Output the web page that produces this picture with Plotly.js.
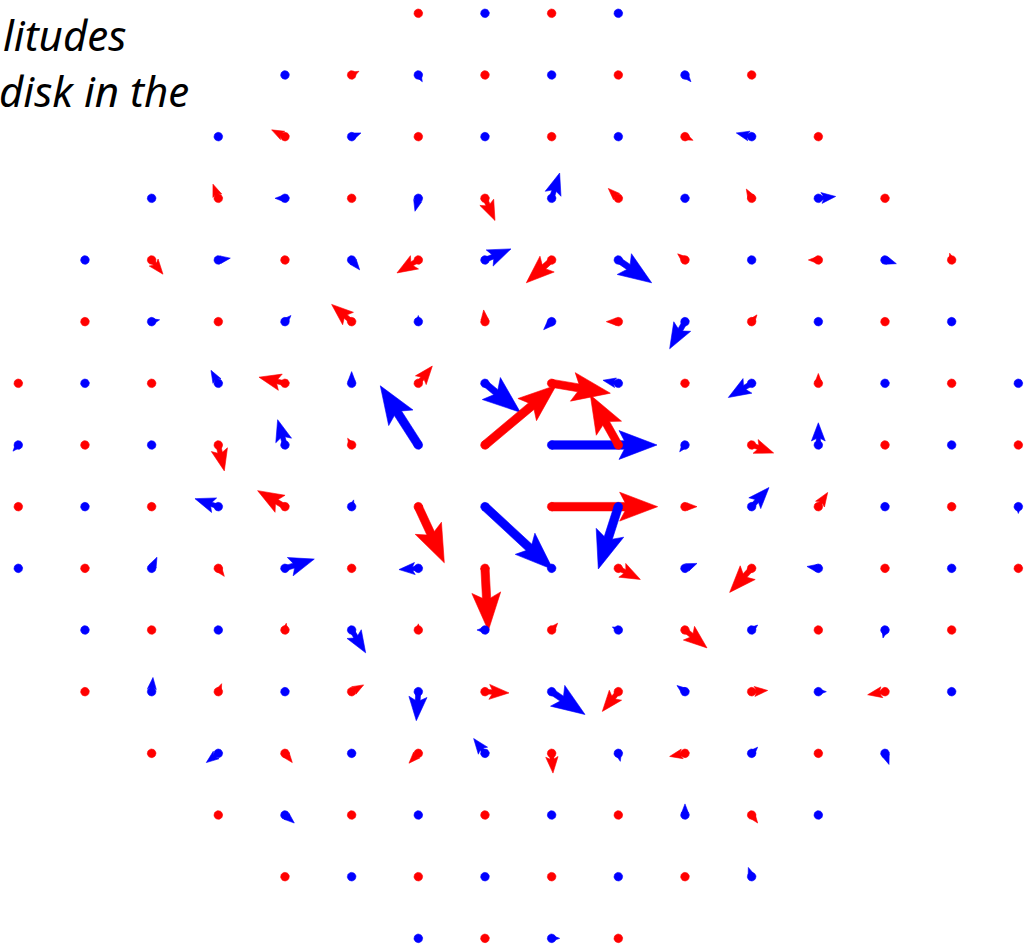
<!DOCTYPE html>
<html>
<head>
<meta charset="utf-8">
<script src="https://cdn.plot.ly/plotly-3.0.1.min.js"></script>
<style>
  html, body { margin: 0; padding: 0; background: #ffffff; }
  #plot { width: 1024px; height: 946px; }
</style>
</head>
<body>
<div id="plot"></div>
<script>
// Occupied sites of the disk: first and last column of every lattice row (row 0 at the top)
const rowFirst = [6, 4, 3, 2, 1, 1, 0, 0, 0, 0, 1, 1, 2, 3, 4, 6];
const rowLast  = [9, 11, 12, 13, 14, 14, 15, 15, 15, 15, 14, 14, 13, 12, 11, 9];

// Amplitude vector on each site, row by row (lattice units, x to the right, y upward)
const ampX = [
  [0, 0, 0, 0],
  [0, 0.11, 0.06, 0, 0, 0, 0.09, 0],
  [0, -0.20, 0.14, 0, 0, 0, 0, 0.12, -0.23, 0],
  [0, -0.08, -0.15, 0, -0.05, 0.15, 0.12, -0.15, 0, -0.08, 0.26, 0],
  [0, 0.17, 0.18, 0, 0.12, -0.32, 0.39, -0.38, 0.50, -0.11, 0, -0.15, 0.17, -0.03],
  [0, 0.12, 0, 0.09, -0.30, 0, -0.02, -0.12, -0.18, -0.23, 0.08, 0, 0, 0],
  [0, 0, 0, -0.11, -0.39, 0, 0.21, 0.53, 0.88, -0.23, 0, -0.35, 0, 0, 0, 0],
  [-0.08, 0, 0, 0.09, -0.11, -0.06, -0.57, 1.07, 1.58, -0.42, -0.08, 0.33, 0, 0, 0, 0],
  [0, 0, 0, -0.35, -0.41, 0.03, 0.39, 1.02, 1.59, -0.30, 0.18, 0.26, 0.14, 0, 0, 0],
  [0, 0, 0.08, 0.09, 0.44, 0, -0.29, 0.05, 0, 0.33, 0.18, -0.33, -0.17, 0, 0, 0],
  [0, 0, 0, 0.02, 0.21, 0, -0.12, 0.09, -0.09, 0.33, 0.09, 0, -0.03, 0],
  [0, 0.02, 0.05, 0, 0.18, -0.03, 0.36, 0.50, -0.24, -0.12, 0.24, 0.12, -0.26, 0],
  [0, -0.18, 0.11, 0, -0.14, -0.17, 0.02, 0.03, -0.23, 0.09, 0, 0.06],
  [0, 0.14, 0, 0, 0, 0, 0, 0, 0.09, 0],
  [0, 0, 0, 0, 0, 0, 0, -0.05],
  [0, 0, 0.12, 0]
];
const ampY = [
  [0, 0, 0, 0],
  [0, 0.06, -0.11, 0, 0, 0, -0.11, 0],
  [0, 0.11, 0.06, 0, 0, 0, 0, -0.06, 0.06, 0],
  [0, 0.23, 0, 0, -0.21, -0.36, 0.41, 0.16, 0, 0.15, 0.03, 0],
  [0, -0.23, 0.03, 0, -0.16, -0.21, 0.18, -0.37, -0.37, 0.10, 0, 0, -0.06, 0.11],
  [0, 0.03, 0, 0.10, 0.28, 0.10, 0.19, -0.13, 0, -0.44, 0.11, 0, 0, 0],
  [0, 0, 0, 0.21, 0.10, 0.19, 0.28, -0.47, -0.16, 0.05, 0, -0.23, 0.16, 0, 0, 0],
  [-0.10, 0, 0, -0.42, 0.41, 0.11, 0.96, 0.97, 0, 0.81, -0.11, -0.13, 0.36, 0, 0, 0],
  [0, 0, 0, 0.13, 0.26, 0.11, -0.91, -1.02, 0, -1.01, 0, 0.31, 0.23, 0, 0, -0.11],
  [0, 0, 0.18, -0.13, 0.15, 0, -0.02, -1.01, 0, -0.18, 0.08, -0.39, 0.03, 0, 0, 0],
  [0, 0, 0, 0.11, -0.37, 0.10, 0, 0.11, 0.05, -0.29, 0.08, 0, -0.13, 0],
  [0, 0.23, 0.13, 0, 0.11, -0.47, -0.02, -0.37, -0.32, 0.10, 0.02, 0, -0.05, 0],
  [0, -0.15, -0.15, 0, -0.16, 0.24, -0.32, -0.13, -0.05, 0.10, 0, -0.18],
  [0, -0.13, 0, 0, 0, 0, 0, 0.18, -0.13, 0],
  [0, 0, 0, 0, 0, 0, 0, 0.15],
  [0, 0, 0, 0]
];

// Sublattice colours
const colorA = '#ff0000';
const colorB = '#0000ff';

// Caption lines
const captionLines = ['litudes', 'disk in the'];

// Figure geometry
const W = 1024, H = 946;
const xRange = [-0.2745, 15.085];
const yRange = [15.124, -0.2157];          // rows run downward
const sx = W / (xRange[1] - xRange[0]);    // pixels per lattice unit, x
const sy = H / (yRange[0] - yRange[1]);    // pixels per lattice unit, y

const DOT_R = 4.3;

// Outline of one arrow (shaft + notched head) in data units, or null for a bare site
function arrowPath(r, c, u, v) {
  const dxp = u * sx, dyp = -v * sy;
  const L = Math.hypot(dxp, dyp);
  if (L <= 2) return null;
  const xs = [], ys = [];
  const push = (px, py) => { xs.push(c + px / sx); ys.push(r + py / sy); };
  const dx = dxp / L, dy = dyp / L;
  const nx = -dy, ny = dx;
  const hl = Math.min(38, 0.82 * L);
  const hw = 0.38 * hl;
  const notch = 0.2 * hl;
  let w = Math.min(8.5, 2 + 0.1 * L);
  w = Math.min(w, 1.6 * hw);
  const aJ = hl - notch * (1 - w / (2 * hw));
  const Tx = L * dx, Ty = L * dy;
  const pts = [
    [ (w / 2) * nx, (w / 2) * ny ],
    [ Tx - aJ * dx + (w / 2) * nx, Ty - aJ * dy + (w / 2) * ny ],
    [ Tx - hl * dx + hw * nx, Ty - hl * dy + hw * ny ],
    [ Tx, Ty ],
    [ Tx - hl * dx - hw * nx, Ty - hl * dy - hw * ny ],
    [ Tx - aJ * dx - (w / 2) * nx, Ty - aJ * dy - (w / 2) * ny ],
    [ -(w / 2) * nx, -(w / 2) * ny ]
  ];
  pts.forEach(p => push(p[0], p[1]));
  push(pts[0][0], pts[0][1]);
  return { xs, ys };
}

// Round dot marking the site itself
function dotPath(r, c) {
  const xs = [], ys = [];
  for (let k = 0; k <= 24; k++) {
    const a = 2 * Math.PI * k / 24;
    xs.push(c + DOT_R * Math.cos(a) / sx);
    ys.push(r + DOT_R * Math.sin(a) / sy);
  }
  return { xs, ys };
}

function shapeTrace(p, col) {
  return {
    type: 'scatter', mode: 'lines',
    x: p.xs, y: p.ys,
    fill: 'toself', fillcolor: col,
    line: { color: col, width: 0.6 },
    hoverinfo: 'skip', showlegend: false
  };
}

const traces = [];
for (let r = 0; r < rowFirst.length; r++) {
  for (let c = rowFirst[r]; c <= rowLast[r]; c++) {
    const i = c - rowFirst[r];
    const col = ((r + c) % 2 === 0) ? colorA : colorB;
    const a = arrowPath(r, c, ampX[r][i], ampY[r][i]);
    if (a) traces.push(shapeTrace(a, col));
    traces.push(shapeTrace(dotPath(r, c), col));
  }
}

const captionFont = { family: 'Noto Sans, Open Sans, sans-serif', size: 42, style: 'italic', color: '#000000' };
const layout = {
  width: W, height: H,
  margin: { l: 0, r: 0, t: 0, b: 0 },
  paper_bgcolor: '#ffffff', plot_bgcolor: '#ffffff',
  showlegend: false,
  xaxis: { range: xRange, visible: false, showgrid: false, zeroline: false, fixedrange: true },
  yaxis: { range: yRange, visible: false, showgrid: false, zeroline: false, fixedrange: true },
  annotations: [
    { xref: 'paper', yref: 'paper', x: 128 / W, y: 1 - 35 / H, xanchor: 'right', yanchor: 'middle',
      text: captionLines[0], showarrow: false, font: captionFont },
    { xref: 'paper', yref: 'paper', x: 191 / W, y: 1 - 91 / H, xanchor: 'right', yanchor: 'middle',
      text: captionLines[1], showarrow: false, font: captionFont }
  ]
};

Plotly.newPlot('plot', traces, layout, { staticPlot: true, displayModeBar: false });
</script>
</body>
</html>
